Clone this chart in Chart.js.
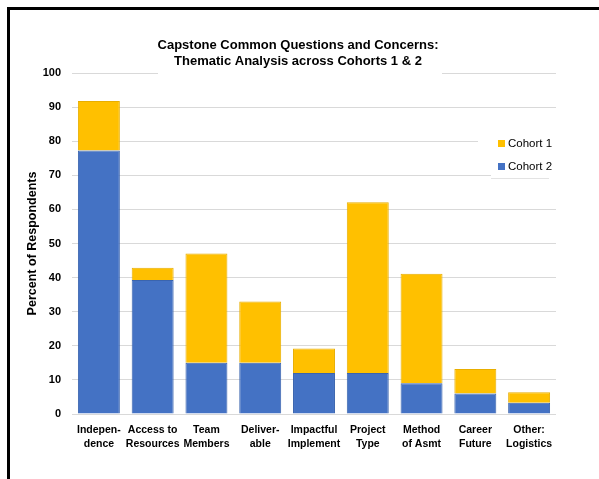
<!DOCTYPE html>
<html>
<head>
<meta charset="utf-8">
<script src="https://cdn.jsdelivr.net/npm/chart.js@4.4.0/dist/chart.umd.min.js"></script>
<style>
  body { margin: 0; background: #fff; }
  #wrap { position: relative; width: 599px; height: 479px; overflow: hidden; }
  #frame { position: absolute; left: 7px; top: 7px; width: 700px; height: 600px; border-top: 3px solid #000; border-left: 3px solid #000; }
  canvas { position: absolute; left: 0; top: 0; }
</style>
</head>
<body>
<div id="wrap">
  <canvas id="chart" width="599" height="479"></canvas>
  <div id="frame"></div>
</div>
<script>
const categories = [
    ['Indepen-', 'dence'],
    ['Access to', 'Resources'],
    ['Team', 'Members'],
    ['Deliver-', 'able'],
    ['Impactful', 'Implement'],
    ['Project', 'Type'],
    ['Method', 'of Asmt'],
    ['Career', 'Future'],
    ['Other:', 'Logistics']
];
const cohort2 = [77.3, 39.3, 15.0, 15.0, 12.0, 12.0, 9.0, 6.0, 3.3];
const cohort1 = [14.5, 3.6, 32.1, 18.0, 7.2, 50.1, 32.1, 7.2, 3.1];
const yTicks = [0, 10, 20, 30, 40, 50, 60, 70, 80, 90, 100];
const titleLines = ['Capstone Common Questions and Concerns:', 'Thematic Analysis across Cohorts 1 & 2'];

const gold = '#FFC000';
const blue = '#4472C4';
const font = "'Liberation Sans', Arial, sans-serif";

// title and legend sit on white boxes inside the plot, like the office chart
const overlayPlugin = {
    id: 'overlay',
    afterDraw(chart) {
        const ctx = chart.ctx;
        ctx.save();
        ctx.fillStyle = '#fff';
        ctx.fillRect(158, 34, 284, 42);
        ctx.fillRect(478, 128, 80, 22);
        ctx.fillRect(491, 150, 67, 27);

        ctx.fillStyle = '#000';
        ctx.font = 'bold 13px ' + font;
        ctx.textAlign = 'center';
        ctx.textBaseline = 'middle';
        ctx.fillText(titleLines[0], 298, 45);
        ctx.fillText(titleLines[1], 298, 61.5);

        ctx.strokeStyle = '#e3e3e3';
        ctx.lineWidth = 1;
        ctx.beginPath();
        ctx.moveTo(491, 178.5);
        ctx.lineTo(549, 178.5);
        ctx.stroke();

        const items = [
            { label: 'Cohort 1', color: gold, y: 143.5 },
            { label: 'Cohort 2', color: blue, y: 166.5 }
        ];
        ctx.font = '11.5px ' + font;
        ctx.textAlign = 'left';
        items.forEach(item => {
            ctx.fillStyle = item.color;
            ctx.fillRect(498, item.y - 3.5, 7, 7);
            ctx.fillStyle = '#000';
            ctx.fillText(item.label, 508, item.y);
        });
        ctx.restore();
    }
};

const ctx = document.getElementById('chart').getContext('2d');
new Chart(ctx, {
    type: 'bar',
    data: {
        labels: categories,
        datasets: [
            {
                label: 'Cohort 2',
                data: cohort2,
                backgroundColor: blue,
                borderColor: '#3A64AE',
                borderWidth: 1,
                categoryPercentage: 0.78,
                barPercentage: 1
            },
            {
                label: 'Cohort 1',
                data: cohort1,
                backgroundColor: gold,
                borderColor: '#E8AE00',
                borderWidth: 1,
                categoryPercentage: 0.78,
                barPercentage: 1
            }
        ]
    },
    options: {
        responsive: false,
        animation: false,
        layout: { padding: { top: 73, right: 43, bottom: 0, left: 0 } },
        plugins: {
            legend: { display: false },
            title: { display: false },
            tooltip: { enabled: false }
        },
        scales: {
            x: {
                stacked: true,
                grid: { display: false },
                border: { display: false },
                ticks: {
                    color: '#000',
                    font: { family: font, size: 10.5, weight: 'bold', lineHeight: 1.35 },
                    padding: 1,
                    autoSkip: false,
                    maxRotation: 0,
                    minRotation: 0
                },
                afterFit(scale) { scale.height = 65; }
            },
            y: {
                stacked: true,
                min: 0,
                max: 100,
                afterBuildTicks(scale) { scale.ticks = yTicks.map(v => ({ value: v })); },
                grid: { color: '#d9d9d9', lineWidth: 1, drawTicks: false },
                border: { display: false },
                ticks: {
                    color: '#000',
                    font: { family: font, size: 11, weight: 'bold' },
                    padding: 11
                },
                title: {
                    display: true,
                    text: 'Percent of Respondents',
                    color: '#000',
                    font: { family: font, size: 12.5, weight: 'bold' },
                    padding: { top: 25, bottom: 0 }
                },
                afterFit(scale) { scale.width = 72; }
            }
        }
    },
    plugins: [overlayPlugin]
});
</script>
</body>
</html>
